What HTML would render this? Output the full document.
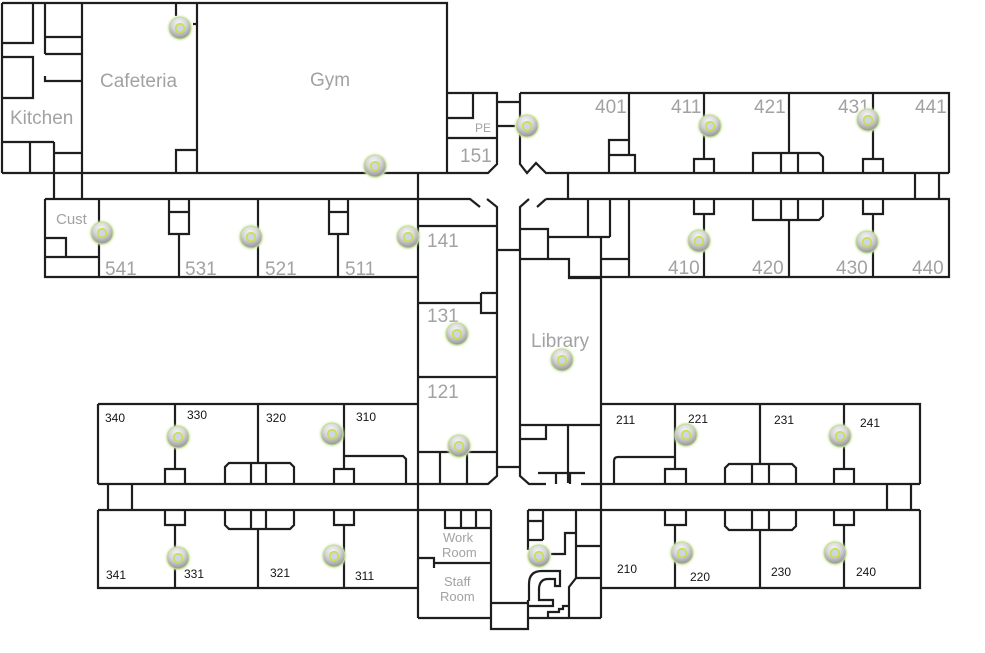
<!DOCTYPE html>
<html><head><meta charset="utf-8"><style>
html,body{margin:0;padding:0;background:#fff;}
svg{display:block;}
.w{fill:none;stroke:#1e1e1e;stroke-width:2.2;stroke-linejoin:miter;}
.g{font-family:"Liberation Sans",sans-serif;fill:#a2a2a2;}
.b{font-family:"Liberation Sans",sans-serif;fill:#151515;font-size:12px;}
</style></head><body>
<svg width="985" height="653" viewBox="0 0 985 653" xmlns="http://www.w3.org/2000/svg">
<defs>
<radialGradient id="apg" cx="45%" cy="30%" r="75%">
<stop offset="0" stop-color="#f6f6f6"/><stop offset="0.45" stop-color="#d6d6d6"/><stop offset="1" stop-color="#8a8a8a"/>
</radialGradient>
<radialGradient id="glow" cx="50%" cy="50%" r="50%">
<stop offset="0.75" stop-color="#cbe6a4" stop-opacity="0.8"/><stop offset="1" stop-color="#dcf0c0" stop-opacity="0"/>
</radialGradient>
<g id="ap">
<circle r="14" fill="url(#glow)"/>
<circle r="11" fill="url(#apg)" stroke="#c2de96" stroke-width="1"/>
<circle r="4.3" fill="#cdd6e6" stroke="#c9e046" stroke-width="1.6"/>
</g>
</defs>
<rect width="985" height="653" fill="#fff"/>
<path class="w" d="
M2,3 H447 V173
M2,3 V173
M2,173 H488 L497,164 V93 H447
M2,43 H33 V3
M2,57 H33 V98 H2
M45,3 V54 M45,37 H82 M45,54 H82 M45,76 V81 H82
M2,142 H54 M30,142 V173 M54,142 V199 M54,153 H82 M82,3 V199
M197,3 V173 M176,3 V16 M193,24 H197 M176,173 V150 H197
M473,93 V118 H447 M447,138 H497
M497,102 H520 M497,126 H515
M520,93 H949 V173
M520,93 V164 L527,173 L536,163 L546,173 H949
M629,93 V155 M609,173 V155 H635 V173 M609,155 V140 H629
M704,93 V159 M694,173 V159 H714 V173
M789,93 V153 M753,173 V153 H819 L823,157 V173 M781,153 V173 M798,153 V173
M873,93 V159 M863,173 V159 H883 V173
M568,173 V199 M915,173 V199 M939,173 V199
M546,199 H949 V277 H569
M629,199 V277
M694,199 V214 H714 V199 M704,214 V277
M753,199 V220 H819 L823,216 V199 M781,199 V220 M798,199 V220 M789,220 V277
M863,199 V214 H883 V199 M873,214 V277
M418,173 V618
M418,199 H470 L480,207 M487,199 L497,207 V476 L488,484 H98
M529,199 L520,207 V476 L529,484 H546 M537,207 L546,199
M418,226 H497 M418,303 H481 M481,293 V313 H497 M481,293 H497 M418,377 H497 M418,452 H497 M440,452 V484 M467,452 V484
M497,250 H520 M497,467 H520
M520,229 H548 V259 M520,259 H569 V278 H601 M548,237 H610 M588,199 V237 M610,199 V237 M601,237 V618 M601,259 H629
M520,425 H601 M520,439 H546 V425 M568,425 V483 M538,473 H585 M556,473 V484 M570,473 V484 M581,484 H920
M45,199 H418 M45,199 V277 H418 M99,199 V277 M45,238 H66 V257 M45,257 H99
M169,199 V234 H189 V199 M169,212 H189 M179,234 V277 M258,199 V277
M329,199 V234 H348 V199 M329,212 H348 M338,234 V277
M98,404 H418 M98,404 V484 M175,404 V469 M165,484 V469 H185 V484 M258,404 V463
M225,484 V467 L229,463 H290 L294,467 V484 M251,463 V484 M266,463 V484
M344,404 V469 M334,484 V469 H354 V484 M344,456 H403 L406,459 V484
M98,510 H491 M108,484 V510 M132,484 V510
M98,510 V588 H418 M165,510 V525 H185 V510 M175,525 V588
M225,510 V525 L229,529 H290 L294,525 V510 M251,510 V529 M266,510 V529 M258,529 V588
M334,510 V525 H354 V510 M344,525 V588
M491,510 V603 M445,510 V528 H491 M461,510 V528 M476,510 V528 M434,563 H491 M418,558 H434 V568 M418,618 H491
M491,603 H528 M491,603 V629 H528 V600
M528,510 H920 M528,510 V550 M528,521 H543 M528,540 H543 M543,510 V540
M551,554 H565 V533 H576 M576,510 V578 L569,587 V618 M576,546 H601 M576,578 H601 M528,618 H601
M529,601 V584 Q529,571 542,571 H560 V586 H555 V579 H548 Q540,579 539,588 V600 H553 V606 H529
M548,618 V612 H559 V609 H563 V606 H568
M601,404 H920 V484 M675,404 V469 M665,484 V469 H686 V484 M614,484 V461 Q614,457 618,457 H675
M760,404 V464 M725,484 V468 L729,464 H792 L796,468 V484 M752,464 V484 M769,464 V484
M844,404 V469 M834,484 V469 H854 V484
M887,484 V510 M911,484 V510
M601,588 H920 V510 M665,510 V525 H686 V510 M675,525 V588
M725,510 V526 L729,530 H792 L796,526 V510 M752,510 V530 M769,510 V530 M760,530 V588
M834,510 V525 H854 V510 M844,525 V588
"/>
<g class="g" font-size="19">
<text x="100" y="87">Cafeteria</text>
<text x="310" y="86">Gym</text>
<text x="10" y="124">Kitchen</text>
<text x="531" y="347">Library</text>
<text x="105" y="275">541</text>
<text x="185" y="275">531</text>
<text x="265" y="275">521</text>
<text x="345" y="275">511</text>
<text x="427" y="247">141</text>
<text x="427" y="322">131</text>
<text x="427" y="398">121</text>
<text x="460" y="162">151</text>
<text x="595" y="113">401</text>
<text x="671" y="113">411</text>
<text x="754" y="113">421</text>
<text x="838" y="113">431</text>
<text x="915" y="113">441</text>
<text x="668" y="274">410</text>
<text x="752" y="274">420</text>
<text x="836" y="274">430</text>
<text x="912" y="274">440</text>
</g>
<text class="g" x="56" y="224" font-size="15">Cust</text>
<text class="g" x="475" y="132" font-size="12">PE</text>
<g class="g" font-size="13">
<text x="443" y="542">Work</text>
<text x="442" y="557">Room</text>
<text x="444" y="586">Staff</text>
<text x="440" y="601">Room</text>
</g>
<g class="b">
<text x="105" y="422">340</text>
<text x="187" y="419">330</text>
<text x="266" y="422">320</text>
<text x="356" y="421">310</text>
<text x="106" y="579">341</text>
<text x="184" y="578">331</text>
<text x="270" y="577">321</text>
<text x="355" y="580">311</text>
<text x="616" y="424">211</text>
<text x="688" y="423">221</text>
<text x="774" y="424">231</text>
<text x="860" y="427">241</text>
<text x="617" y="573">210</text>
<text x="690" y="581">220</text>
<text x="771" y="576">230</text>
<text x="856" y="576">240</text>
</g>
<use href="#ap" x="180" y="28"/>
<use href="#ap" x="375" y="166"/>
<use href="#ap" x="102" y="233"/>
<use href="#ap" x="251" y="237"/>
<use href="#ap" x="408" y="237"/>
<use href="#ap" x="527" y="126"/>
<use href="#ap" x="710" y="126"/>
<use href="#ap" x="868" y="120"/>
<use href="#ap" x="699" y="241"/>
<use href="#ap" x="867" y="242"/>
<use href="#ap" x="457" y="334"/>
<use href="#ap" x="562" y="360"/>
<use href="#ap" x="459" y="446"/>
<use href="#ap" x="178" y="437"/>
<use href="#ap" x="332" y="434"/>
<use href="#ap" x="178" y="558"/>
<use href="#ap" x="334" y="556"/>
<use href="#ap" x="539" y="556"/>
<use href="#ap" x="686" y="435"/>
<use href="#ap" x="840" y="436"/>
<use href="#ap" x="682" y="553"/>
<use href="#ap" x="835" y="553"/>
</svg>
</body></html>
